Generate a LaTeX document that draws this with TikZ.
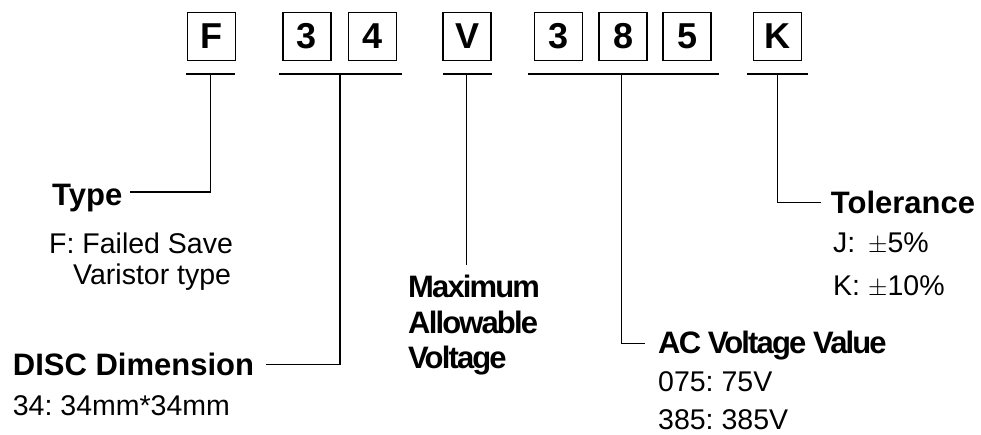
\documentclass[tikz,border=0pt]{standalone}
\usepackage{fontspec}
\setmainfont{Liberation Sans}
\usetikzlibrary{calc}
\frenchspacing
\tikzset{
  digitbox/.style={draw, line width=1.5pt, minimum size=48pt, inner sep=0pt,
    font=\bfseries\fontsize{36}{36}\selectfont},
  partline/.style={line width=1.5pt},
  title/.style={anchor=base west, inner sep=0pt, font=\bfseries\fontsize{31}{36}\selectfont},
  tighttitle/.style={title, font=\bfseries\fontsize{31}{36}\selectfont\addfontfeature{LetterSpace=-6}},
  note/.style={anchor=base west, inner sep=0pt, font=\fontsize{28.5}{34}\selectfont},
}
\begin{document}
\begin{tikzpicture}[x=1pt,y=-1pt,line cap=butt,line join=miter]
  \useasboundingbox (0,0) rectangle (981,434);
  % code boxes
  \node[digitbox] (bF) at (211.5,36.5) {F};
  \node[digitbox] (b3a) at (307,36.5) {3};
  \node[digitbox] (b4) at (372.5,36.5) {4};
  \node[digitbox] (bV) at (467,36.5) {V};
  \node[digitbox] (b3b) at (558.5,36.5) {3};
  \node[digitbox] (b8) at (623,36.5) {8};
  \node[digitbox] (b5) at (687,36.5) {5};
  \node[digitbox] (bK) at (777.5,36.5) {K};
  % underlines
  \coordinate (uF) at (210.7,74);
  \coordinate (uD) at (340,74);
  \coordinate (uV) at (466.7,74);
  \coordinate (uA) at (621.5,74);
  \coordinate (uK) at (777.7,74);
  \draw[partline] (186,74) -- (235,74);
  \draw[partline] (279,74) -- (402,74);
  \draw[partline] (442.7,74) -- (491.7,74);
  \draw[partline] (528,74) -- (719,74);
  \draw[partline] (747,74) -- (808,74);
  % labels
  \node[title] (type) at (52,205) {Type};
  \node[note] (type1) at (49,253) {F: Failed Save};
  \node[note] (type2) at (73,284) {Varistor type};
  \node[title] (disc) at (12.7,375) {DISC Dimension};
  \node[note] (disc1) at (12.7,415) {34: 34mm*34mm};
  \node[tighttitle] (maxv1) at (408,297) {Maximum};
  \node[tighttitle] (maxv2) at (408,333) {Allowable};
  \node[tighttitle] (maxv3) at (408,368) {Voltage};
  \node[tighttitle] (acv) at (658,353.3) {AC Voltage Value};
  \node[note] (acv1) at (658,391.7) {075: 75V};
  \node[note] (acv2) at (658,429.3) {385: 385V};
  \node[title] (tol) at (830.7,213.3) {Tolerance};
  \node[note] (tol1) at (833,252.3) {\makebox[35pt][l]{J:}$\pm$5\%};
  \node[note] (tol2) at (833,295) {\makebox[35pt][l]{K:}$\pm$10\%};
  % leaders
  \coordinate (vEnd) at (466.7,265);
  \draw[partline] (uF) |- ([xshift=8pt,yshift=13pt]type.base east);
  \draw[partline] (uD) |- ([xshift=12pt,yshift=10.7pt]disc.base east);
  \draw[partline] (uV) -- (vEnd);
  \draw[partline] (uA) |- ([xshift=-13pt,yshift=10pt]acv.base west);
  \draw[partline] (uK) |- ([xshift=-10pt,yshift=10.6pt]tol.base west);
\end{tikzpicture}
\end{document}
